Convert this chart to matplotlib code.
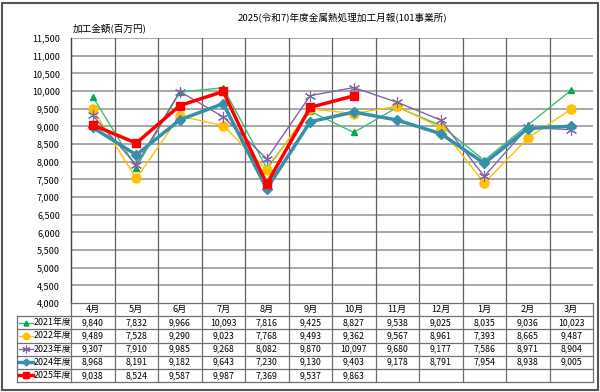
import matplotlib
matplotlib.use("Agg")
import matplotlib.pyplot as plt
from matplotlib.patches import Rectangle

plt.rcParams['font.family'] = ['Noto Sans CJK JP', 'DejaVu Sans']

months = ["4月", "5月", "6月", "7月", "8月", "9月", "10月", "11月", "12月", "1月", "2月", "3月"]
labels = ["2021年度", "2022年度", "2023年度", "2024年度", "2025年度"]
v2021 = [9840, 7832, 9966, 10093, 7816, 9425, 8827, 9538, 9025, 8035, 9036, 10023]
v2022 = [9489, 7528, 9290, 9023, 7768, 9493, 9362, 9567, 8961, 7393, 8665, 9487]
v2023 = [9307, 7910, 9985, 9268, 8082, 9870, 10097, 9680, 9177, 7586, 8971, 8904]
v2024 = [8968, 8191, 9182, 9643, 7230, 9130, 9403, 9178, 8791, 7954, 8938, 9005]
v2025 = [9038, 8524, 9587, 9987, 7369, 9537, 9863]
series = [v2021, v2022, v2023, v2024, v2025]
yticks = list(range(4000, 11501, 500))

title = "2025(令和7)年度金属熱処理加工月報(101事業所)"
ylabel = "加工金額(百万円)"

styles = [
    dict(color="#3CC070", lw=1.0, marker="^", ms=5, mfc="#00A850", mec="#00A850"),
    dict(color="#FFC000", lw=1.0, marker="o", ms=6.5, mfc="#FFC000", mec="#FFC000"),
    dict(color="#8064A2", lw=1.0, marker=(6, 2, 0), ms=8, mfc="#8064A2", mec="#8064A2", mew=0.8),
    dict(color="#3690AC", lw=2.5, marker="D", ms=5, mfc="#3690AC", mec="#3690AC"),
    dict(color="#FF0000", lw=2.5, marker="s", ms=5.5, mfc="#FF0000", mec="#FF0000"),
]

W, H = 600, 392
fig = plt.figure(figsize=(W / 100, H / 100), dpi=100)
fig.patch.set_facecolor("white")

# outer border
fig.patches.append(Rectangle((1.5 / W, 2.5 / H), (W - 3.5) / W, (H - 5) / H,
                             transform=fig.transFigure, fill=False,
                             edgecolor="#555555", lw=1.5))

x0, x1 = 71, 593
ytop, ybot = 38, 303
ax = fig.add_axes([x0 / W, 1 - ybot / H, (x1 - x0) / W, (ybot - ytop) / H])
ax.set_xlim(-0.5, 11.5)
ax.set_ylim(4000, 11500)
ax.set_yticks(yticks)
ax.set_yticklabels([f"{t:,}" for t in yticks], fontsize=6.5)
ax.tick_params(axis="y", length=0, pad=8)
ax.set_xticks([])
for s in ["top", "right", "bottom"]:
    ax.spines[s].set_visible(False)
ax.spines["left"].set_color("#404040")
ax.spines["left"].set_linewidth(1.0)
for t in yticks[1:]:
    ax.axhline(t, color="#9A9A9A", lw=1.2, zorder=0)
for i in range(1, 12):
    ax.axvline(i - 0.5, color="#606060", lw=0.9, zorder=0)

xs = list(range(12))
for vals, st in zip(series, styles):
    ax.plot(xs[:len(vals)], vals, **st)

fig.text(342 / W, 1 - 18 / H, title, fontsize=6.9, ha="center", va="center")
fig.text(110 / W, 1 - 28 / H, ylabel, fontsize=6.9, ha="center", va="center")

# table
tx0, tbot = 17, 382
cw = (x1 - x0) / 12.0
lead = (x0 - tx0) / cw
tax = fig.add_axes([tx0 / W, 1 - tbot / H, (x1 - tx0) / W, (tbot - ybot) / H])
tax.set_xlim(-0.5 - lead, 11.5)
tax.set_ylim(6, 0)
tax.axis("off")
gc = "#707070"
tax.plot([-0.5, 11.5], [0, 0], color=gc, lw=0.9, clip_on=False)
for r in range(1, 7):
    tax.plot([-0.5 - lead, 11.5], [r, r], color=gc, lw=0.9, clip_on=False)
tax.plot([-0.5 - lead, -0.5 - lead], [1, 6], color=gc, lw=0.9, clip_on=False)
for i in range(13):
    tax.plot([i - 0.5, i - 0.5], [0, 6], color=gc, lw=0.9, clip_on=False)

for i, m in enumerate(months):
    tax.text(i, 0.5, m, ha="center", va="center", fontsize=6.6)
for r, (vals, st, lab) in enumerate(zip(series, styles, labels)):
    yy = r + 1.5
    for i, v in enumerate(vals):
        tax.text(i, yy, f"{v:,}", ha="center", va="center", fontsize=6.3)
    lx0 = -0.5 - lead + 2 / cw
    lx1 = lx0 + 14 / cw
    tax.plot([lx0, lx1], [yy, yy], color=st["color"], lw=st["lw"], clip_on=False)
    mk = {k: val for k, val in st.items() if k not in ("color", "lw")}
    mk["ms"] = st["ms"] * 0.7
    tax.plot([(lx0 + lx1) / 2], [yy], linestyle="none", clip_on=False, **mk)
    tax.text(lx1 + 0.5 / cw, yy, lab, ha="left", va="center", fontsize=6.4)

fig.savefig("out.png", dpi=100, facecolor="white")
